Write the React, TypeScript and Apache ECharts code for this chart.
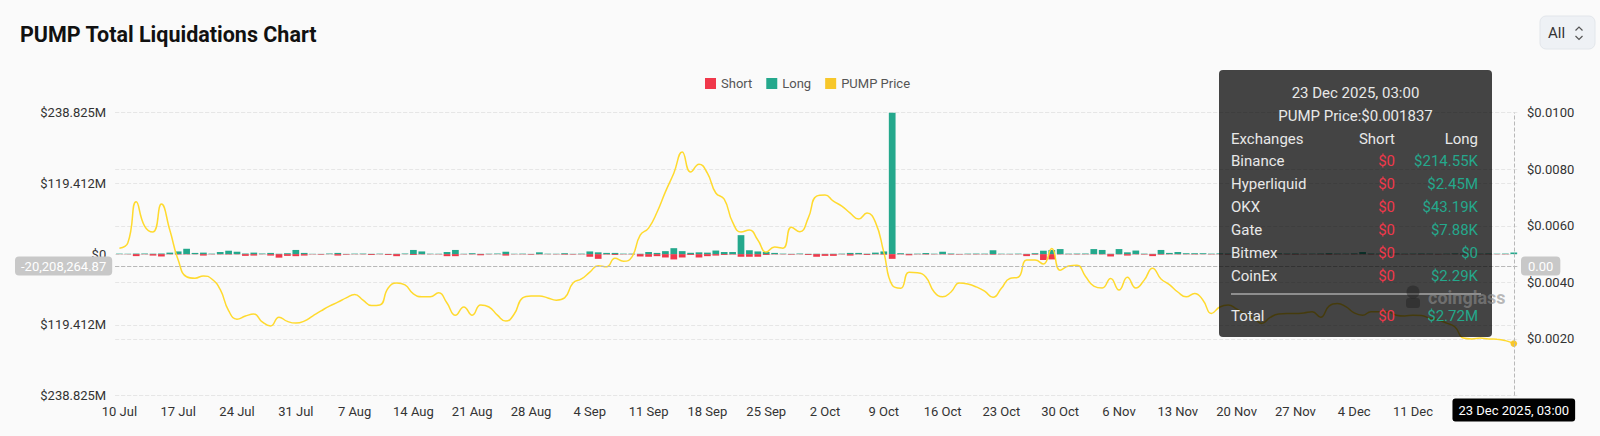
import React, { useEffect, useRef } from "react";
import * as echarts from "echarts";

const MONTHS = ["Jan", "Feb", "Mar", "Apr", "May", "Jun", "Jul", "Aug", "Sep", "Oct", "Nov", "Dec"];
const START_UTC = Date.UTC(2025, 6, 10);
const DAY_COUNT = 167;
// daily categories, 10 Jul 2025 .. 23 Dec 2025 (03:00 snapshot)
const categories: string[] = Array.from({ length: DAY_COUNT }, (_, i) => {
  const d = new Date(START_UTC + i * 86400000);
  return `${d.getUTCDate()} ${MONTHS[d.getUTCMonth()]} ${d.getUTCFullYear()}, 03:00`;
});

// Long liquidations, $M
const longM = [
  0.8, 0.6, 0.9, 1.0, 0.7, 1.0, 2.5, 4.5, 9.0, 2.0,
  2.5, 0.8, 3.5, 5.7, 4.0, 1.0, 2.5, 1.0, 2.0, 0.6,
  1.5, 7.0, 2.0, 0.5, 0.4, 1.0, 2.0, 0.4, 0.8, 0.9,
  0.5, 0.8, 0.4, 0.6, 1.0, 7.0, 4.5, 0.7, 0.6, 3.5,
  7.0, 0.6, 1.5, 0.5, 0.7, 1.0, 4.0, 0.6, 0.8, 0.4,
  3.0, 0.7, 0.6, 1.5, 0.5, 0.8, 4.5, 3.0, 2.0, 2.0,
  0.8, 0.8, 0.6, 3.5, 2.0, 5.0, 10.0, 5.0, 2.2, 3.0,
  2.5, 6.0, 3.5, 3.5, 32.0, 6.5, 4.5, 3.5, 2.0, 0.8,
  0.5, 1.0, 0.5, 0.6, 0.5, 0.6, 0.8, 2.0, 2.0, 0.7,
  2.5, 4.5, 238.825, 1.5, 0.6, 0.8, 1.8, 0.7, 4.0, 1.0,
  0.4, 0.8, 0.9, 0.8, 6.5, 0.7, 0.6, 0.8, 0.5, 1.5,
  5.7, 7.0, 8.5, 0.8, 0.9, 1.0, 8.5, 7.0, 0.6, 8.5,
  3.0, 6.0, 0.8, 0.5, 7.0, 2.0, 3.5, 1.5, 1.5, 1.5,
  0.8, 1.2, 0.9, 1.0, 0.7, 1.1, 0.8, 0.6, 1.3, 0.9,
  1.0, 0.7, 0.8, 1.0, 1.5, 0.9, 0.8, 1.2, 3.5, 1.0,
  0.8, 0.9, 1.1, 0.7, 0.8, 1.0, 0.9, 0.6, 0.8, 1.2,
  1.0, 0.9, 0.8, 1.1, 0.7, 0.9, 2.71791,
];

// Short liquidations, $M (drawn below zero)
const shortM = [
  -0.3, -0.4, -3.4, -0.5, -2.5, -4.0, -0.5, -0.8, -0.6, -0.4,
  -2.5, -0.5, -0.6, -0.8, -0.5, -3.0, -2.5, -0.4, -2.5, -6.0,
  -3.0, -3.5, -2.5, -0.5, -1.0, -0.3, -2.5, -1.0, -0.4, -0.5,
  -1.5, -0.4, -1.5, -3.5, -0.3, -1.5, -0.6, -0.4, -0.5, -3.5,
  -3.5, -0.5, -0.6, -2.0, -0.5, -0.3, -2.5, -0.4, -0.5, -1.0,
  -0.6, -0.4, -0.5, -1.0, -0.8, -0.5, -4.5, -8.0, -0.8, -1.5,
  -0.5, -0.6, -4.0, -4.5, -3.5, -5.7, -9.0, -5.7, -1.5, -5.7,
  -3.5, -2.5, -1.5, -0.8, -4.5, -4.5, -4.5, -1.5, -0.6, -0.5,
  -1.0, -0.4, -1.5, -4.5, -3.0, -3.0, -0.5, -2.5, -0.6, -1.5,
  -0.6, -1.0, -8.0, -0.6, -2.0, -0.5, -0.8, -0.5, -0.6, -0.8,
  -0.8, -0.5, -0.6, -0.5, -1.0, -0.4, -0.5, -0.4, -3.4, -1.0,
  -10.0, -9.0, -0.6, -0.5, -0.6, -0.5, -0.4, -0.6, -4.0, -0.5,
  -2.5, -0.6, -0.8, -3.4, -1.0, -0.5, -0.6, -0.5, -0.7, -0.4,
  -0.6, -0.5, -0.8, -0.4, -0.6, -0.5, -0.7, -0.4, -0.5, -0.6,
  -0.8, -0.5, -0.4, -0.6, -0.9, -0.5, -0.4, -0.6, -0.5, -0.7,
  -0.4, -0.5, -0.6, -0.5, -0.4, -0.6, -0.5, -0.7, -0.4, -0.5,
  -0.6, -0.4, -0.5, -0.6, -0.4, -0.5, 0,
];

// PUMP price, $
const price = [
  0.00521, 0.00539, 0.00685, 0.00599, 0.00578, 0.00677, 0.00585, 0.00479, 0.0042, 0.00415,
  0.00423, 0.00412, 0.00375, 0.003, 0.0027, 0.00281, 0.00288, 0.0026, 0.00246, 0.00277,
  0.00262, 0.00256, 0.00263, 0.00281, 0.00299, 0.00316, 0.0033, 0.00345, 0.00357, 0.00337,
  0.00318, 0.0032, 0.0038, 0.00398, 0.00391, 0.00359, 0.00349, 0.00349, 0.00363, 0.00327,
  0.00284, 0.00313, 0.00284, 0.0032, 0.00313, 0.00284, 0.00263, 0.00288, 0.00345, 0.00352,
  0.00352, 0.00345, 0.00337, 0.00345, 0.00398, 0.00412, 0.00436, 0.00459, 0.00455, 0.00485,
  0.00475, 0.00489, 0.00567, 0.00592, 0.00648, 0.0072, 0.00786, 0.00861, 0.0079, 0.00818,
  0.00786, 0.00716, 0.00694, 0.00613, 0.00578, 0.00585, 0.0055, 0.00507, 0.00525, 0.00521,
  0.00595, 0.00579, 0.00627, 0.00705, 0.00709, 0.00687, 0.0067, 0.00645, 0.00624, 0.00645,
  0.00613, 0.00507, 0.0039, 0.00379, 0.00436, 0.00434, 0.00419, 0.00366, 0.00349, 0.00366,
  0.00398, 0.00394, 0.00384, 0.00369, 0.00347, 0.00379, 0.00414, 0.00418, 0.00479, 0.00479,
  0.00465, 0.0052, 0.00443, 0.00458, 0.00461, 0.00422, 0.00387, 0.0038, 0.00414, 0.00373,
  0.00418, 0.0038, 0.00408, 0.0045, 0.00412, 0.00392, 0.00366, 0.00349, 0.00361, 0.00337,
  0.0029, 0.00313, 0.0032, 0.00306, 0.00288, 0.00274, 0.00255, 0.00276, 0.00288, 0.0029,
  0.0029, 0.00292, 0.00296, 0.00277, 0.00316, 0.00325, 0.00314, 0.00292, 0.00284, 0.00296,
  0.00296, 0.00296, 0.00284, 0.00281, 0.00284, 0.00283, 0.00273, 0.00267, 0.00256, 0.00242,
  0.00203, 0.002, 0.00203, 0.002, 0.00199, 0.00194, 0.001837,
];

// left axis: symmetric range and tick step, $M
const leftMaxM = 238.825;
const leftStepM = 119.4125;
// right axis ticks
const priceMax = 0.01;
const priceStep = 0.002;

// tooltip breakdown for the hovered day (last day)
const tipIndex = 166;
const tipExchanges = ["Binance", "Hyperliquid", "OKX", "Gate", "Bitmex", "CoinEx"];
const tipShort = [0, 0, 0, 0, 0, 0];
const tipLong = [214550, 2450000, 43190, 7880, 0, 2290];
// crosshair position on the left axis, $M
const pointerValueM = -20.20826487;

const RED = "#F0384B";
const GREEN = "#24A88C";
const YELLOW = "#F7C72A";
const FONT = "Roboto";

function fmtUsd(v: number): string {
  if (v >= 1e6) return "$" + (v / 1e6).toFixed(2) + "M";
  if (v >= 1e3) return "$" + (v / 1e3).toFixed(2) + "K";
  return "$" + v;
}

function txt(text: string, x: number, y: number, fill: string, align: string, size = 15, weight = "normal", z = 100) {
  return {
    type: "text",
    x,
    y,
    z,
    silent: true,
    style: {
      text,
      fill,
      fontSize: size,
      fontFamily: FONT,
      fontWeight: weight,
      align,
      textAlign: align,
      verticalAlign: "middle",
      textVerticalAlign: "middle",
    },
  };
}

function buildTooltipGraphic() {
  const bx = 1219;
  const by = 70;
  const bw = 273;
  const bh = 267;
  const cx = bx + bw / 2;
  const leftX = 1231;
  const shortX = 1395;
  const longX = 1478;
  const els: any[] = [
    {
      type: "rect",
      z: 99,
      silent: true,
      shape: { x: bx, y: by, width: bw, height: bh, r: 4 },
      style: { fill: "rgba(0,0,0,0.73)" },
    },
    txt(categories[tipIndex], cx, 92.5, "#e8e8e8", "center"),
    txt("PUMP Price:$" + price[tipIndex], cx, 115.5, "#e8e8e8", "center"),
    txt("Exchanges", leftX, 138.5, "#e8e8e8", "left"),
    txt("Short", shortX, 138.5, "#e8e8e8", "right"),
    txt("Long", longX, 138.5, "#e8e8e8", "right"),
  ];
  tipExchanges.forEach((name, k) => {
    const y = 161 + k * 22.9;
    els.push(txt(name, leftX, y, "#e8e8e8", "left"));
    els.push(txt(fmtUsd(tipShort[k]), shortX, y, RED, "right"));
    els.push(txt(fmtUsd(tipLong[k]), longX, y, GREEN, "right"));
  });
  els.push({
    type: "line",
    z: 100,
    silent: true,
    shape: { x1: leftX, y1: 294, x2: 1481, y2: 294 },
    style: { stroke: "#d8d8d8", lineWidth: 1 },
  });
  const totShort = tipShort.reduce((a, b) => a + b, 0);
  const totLong = tipLong.reduce((a, b) => a + b, 0);
  els.push(txt("Total", leftX, 315.5, "#e8e8e8", "left"));
  els.push(txt(fmtUsd(totShort), shortX, 315.5, RED, "right"));
  els.push(txt(fmtUsd(totLong), longX, 315.5, GREEN, "right"));
  return els;
}

function buildOption(): any {
  const graphic: any[] = [
    // "All" selector button
    {
      type: "rect",
      silent: true,
      shape: { x: 1540, y: 16, width: 55, height: 33, r: 6 },
      style: { fill: "#eef1f5", stroke: "#e2e6eb", lineWidth: 1 },
    },
    txt("All", 1548, 33, "#333", "left", 15, "normal", 1),
    {
      type: "polyline",
      silent: true,
      shape: { points: [[1575.5, 30.5], [1579, 27], [1582.5, 30.5]] },
      style: { stroke: "#555", lineWidth: 1.2, fill: "none" },
    },
    {
      type: "polyline",
      silent: true,
      shape: { points: [[1575.5, 36], [1579, 39.5], [1582.5, 36]] },
      style: { stroke: "#555", lineWidth: 1.2, fill: "none" },
    },
    ...buildTooltipGraphic(),
    // watermark
    {
      type: "circle",
      z: 110,
      silent: true,
      shape: { cx: 1413, cy: 292, r: 6.5 },
      style: { fill: "rgba(30,30,30,0.45)" },
    },
    {
      type: "rect",
      z: 110,
      silent: true,
      shape: { x: 1406, y: 298, width: 14, height: 10, r: 3 },
      style: { fill: "rgba(30,30,30,0.45)" },
    },
    txt("coinglass", 1428, 297, "rgba(140,140,140,0.6)", "left", 18, "bold", 110),
  ];

  return {
    animation: false,
    backgroundColor: "#fafafa",
    textStyle: { fontFamily: FONT },
    title: {
      text: "PUMP Total Liquidations Chart",
      left: 20,
      top: 23,
      padding: 0,
      textStyle: { fontSize: 21.5, fontWeight: "bold", color: "#111", fontFamily: FONT },
    },
    legend: {
      data: ["Short", "Long", "PUMP Price"],
      top: 77,
      left: 705,
      padding: 0,
      icon: "rect",
      itemWidth: 11,
      itemHeight: 11,
      itemGap: 14,
      textStyle: { fontSize: 13, color: "#555", fontFamily: FONT },
    },
    grid: { left: 115.2, right: 82, top: 112.7, bottom: 40.5, containLabel: false },
    tooltip: {
      trigger: "axis",
      showContent: false,
      axisPointer: {
        type: "cross",
        lineStyle: { color: "#b8b8b8", type: "dashed", width: 1 },
        crossStyle: { color: "#b8b8b8", type: "dashed", width: 1 },
      },
    },
    xAxis: {
      type: "category",
      data: categories,
      boundaryGap: true,
      axisLine: { show: false },
      axisTick: { show: false },
      splitLine: { show: false },
      axisLabel: {
        // weekly labels; the one under the hovered-date box is covered
        interval: (idx: number) => idx % 7 === 0 && idx !== 161,
        color: "#333",
        fontSize: 13,
        margin: 9,
        fontFamily: FONT,
        formatter: (v: string) => v.split(" ").slice(0, 2).join(" "),
      },
      axisPointer: {
        label: {
          backgroundColor: "#000",
          color: "#fff",
          fontSize: 13,
          padding: [5, 6],
          borderRadius: 3,
          fontFamily: FONT,
          formatter: (p: any) => p.value,
        },
      },
    },
    yAxis: [
      {
        type: "value",
        min: -leftMaxM,
        max: leftMaxM,
        interval: leftStepM,
        axisLine: { show: false },
        axisTick: { show: false },
        splitLine: { lineStyle: { color: "#e6e6e6", type: "dashed" } },
        axisLabel: {
          color: "#333",
          fontSize: 13,
          margin: 9,
          fontFamily: FONT,
          formatter: (v: number) => (Math.abs(v) < 1e-6 ? "$0" : "$" + Math.abs(v).toFixed(3) + "M"),
        },
        axisPointer: {
          label: {
            backgroundColor: "#c8c8c8",
            color: "#fff",
            fontSize: 13,
            padding: [3, 6],
            borderRadius: 4,
            fontFamily: FONT,
            formatter: (p: any) =>
              (Number(p.value) * 1e6).toLocaleString("en-US", {
                minimumFractionDigits: 2,
                maximumFractionDigits: 2,
              }),
          },
        },
      },
      {
        type: "value",
        min: 0,
        max: priceMax,
        interval: priceStep,
        position: "right",
        axisLine: { show: false },
        axisTick: { show: false },
        splitLine: { lineStyle: { color: "#e6e6e6", type: "dashed" } },
        axisLabel: {
          color: "#333",
          fontSize: 13,
          margin: 9,
          showMinLabel: false,
          fontFamily: FONT,
          formatter: (v: number) => "$" + v.toFixed(4),
        },
        axisPointer: {
          label: {
            backgroundColor: "#c8c8c8",
            color: "#fff",
            fontSize: 13,
            padding: [3, 7],
            borderRadius: 4,
            fontFamily: FONT,
            formatter: (p: any) => Number(p.value).toFixed(2),
          },
        },
      },
    ],
    series: [
      {
        name: "Short",
        type: "bar",
        stack: "liq",
        yAxisIndex: 0,
        data: shortM,
        barWidth: "80%",
        itemStyle: { color: RED },
        emphasis: { disabled: true },
      },
      {
        name: "Long",
        type: "bar",
        stack: "liq",
        yAxisIndex: 0,
        data: longM,
        barWidth: "80%",
        itemStyle: { color: GREEN },
        emphasis: { disabled: true },
      },
      {
        name: "PUMP Price",
        type: "line",
        yAxisIndex: 1,
        data: price,
        smooth: true,
        showSymbol: false,
        symbol: "circle",
        symbolSize: 6,
        z: 5,
        lineStyle: { color: YELLOW, width: 1.5 },
        itemStyle: { color: YELLOW },
      },
    ],
    graphic,
  };
}

export default function App() {
  const ref = useRef<HTMLDivElement>(null);
  useEffect(() => {
    if (!ref.current) return;
    const chart = echarts.init(ref.current, null, { renderer: "svg" });
    chart.setOption(buildOption());
    const showPointer = () => {
      const x = chart.convertToPixel({ xAxisIndex: 0 }, tipIndex) as number;
      const y = chart.convertToPixel({ yAxisIndex: 0 }, pointerValueM) as number;
      chart.dispatchAction({ type: "showTip", x, y });
    };
    showPointer();
    const t = setTimeout(showPointer, 60);
    return () => {
      clearTimeout(t);
      chart.dispose();
    };
  }, []);
  return (
    <div style={{ position: "absolute", left: 0, top: 0, width: 1600, height: 436, background: "#fafafa" }}>
      <div ref={ref} style={{ width: 1600, height: 436 }} />
    </div>
  );
}
